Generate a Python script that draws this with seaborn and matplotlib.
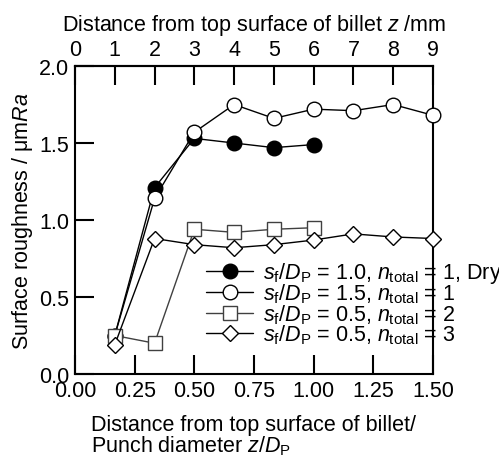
import numpy as np
import pandas as pd
import matplotlib
matplotlib.use("Agg")
import matplotlib.pyplot as plt
import seaborn as sns

# distance from top surface of billet, mm (punch diameter 6 mm)
z_mm = [1, 2, 3, 4, 5, 6, 7, 8, 9]
punch_d = 6.0

ra_dry = [0.25, 1.21, 1.53, 1.50, 1.47, 1.49]
ra_sf15 = [0.25, 1.14, 1.57, 1.75, 1.66, 1.72, 1.71, 1.75, 1.68]
ra_n2 = [0.25, 0.20, 0.94, 0.92, 0.94, 0.95]
ra_n3 = [0.19, 0.88, 0.84, 0.82, 0.84, 0.87, 0.91, 0.89, 0.88]

labels = [
    r"$s_\mathrm{f}/D_\mathrm{P}$ = 1.0, $n_\mathrm{total}$ = 1, Dry",
    r"$s_\mathrm{f}/D_\mathrm{P}$ = 1.5, $n_\mathrm{total}$ = 1",
    r"$s_\mathrm{f}/D_\mathrm{P}$ = 0.5, $n_\mathrm{total}$ = 2",
    r"$s_\mathrm{f}/D_\mathrm{P}$ = 0.5, $n_\mathrm{total}$ = 3",
]

fs = 15.5

sns.set_style("ticks")
plt.rcParams['font.family'] = ['Liberation Sans', 'DejaVu Sans']
plt.rcParams['mathtext.fontset'] = 'custom'
plt.rcParams['mathtext.rm'] = 'Liberation Sans'
plt.rcParams['mathtext.it'] = 'Liberation Sans:italic'
plt.rcParams['mathtext.bf'] = 'Liberation Sans:bold'
plt.rcParams['font.size'] = fs
plt.rcParams['axes.axisbelow'] = False
plt.rcParams['xtick.direction'] = 'in'
plt.rcParams['ytick.direction'] = 'in'
plt.rcParams['xtick.major.size'] = 14
plt.rcParams['ytick.major.size'] = 14
plt.rcParams['xtick.major.width'] = 1.5
plt.rcParams['ytick.major.width'] = 1.5
plt.rcParams['xtick.color'] = 'black'
plt.rcParams['ytick.color'] = 'black'
plt.rcParams['axes.edgecolor'] = 'black'
plt.rcParams['axes.labelcolor'] = 'black'
plt.rcParams['text.color'] = 'black'

fig = plt.figure(figsize=(4.99, 4.56), dpi=100)
ax = fig.add_axes([0.1503, 0.1776, 0.7174, 0.6754])

series = [
    (ra_dry, 'o', 'black', 'black', 'black'),
    (ra_sf15, 'o', 'white', 'black', 'black'),
    (ra_n2, 's', 'white', '#404040', '#404040'),
    (ra_n3, 'D', 'white', 'black', 'black'),
]

for (vals, mk, fc, ec, lc), lab in zip(series, labels):
    df = pd.DataFrame({'x': np.array(z_mm[:len(vals)]) / punch_d, 'y': vals})
    ms = 10.5 if mk != 'D' else 8.5
    sns.lineplot(data=df, x='x', y='y', ax=ax, color=lc, linewidth=1.0,
                 marker=mk, markersize=ms, markerfacecolor=fc,
                 markeredgecolor=ec, markeredgewidth=1.0, label=lab,
                 clip_on=False, zorder=3)

ax.set_xlim(0, 1.5)
ax.set_ylim(0, 2.0)
ax.set_xticks([0, 0.25, 0.5, 0.75, 1.0, 1.25, 1.5])
ax.set_xticklabels(['0.00', '0.25', '0.50', '0.75', '1.00', '1.25', '1.50'])
ax.set_yticks([0, 0.5, 1.0, 1.5, 2.0])
ax.set_yticklabels(['0.0', '0.5', '1.0', '1.5', '2.0'])
for sp in ax.spines.values():
    sp.set_linewidth(1.5)
    sp.set_visible(True)

secax = ax.secondary_xaxis('top', functions=(lambda x: x * punch_d,
                                             lambda z: z / punch_d))
secax.patch.set_visible(False)
secax.set_xticks(range(0, 10))
secax.tick_params(direction='in', length=14, width=1.5, pad=4, labelsize=fs)
secax.spines['top'].set_linewidth(1.5)
secax.set_xlabel(r"Distance from top surface of billet $z$ /mm", labelpad=7)

ax.tick_params(axis='both', which='major', direction='in', length=14,
               width=1.5, pad=4, labelsize=fs, bottom=True, left=True,
               top=False, right=False)
ax.xaxis.set_zorder(4)
ax.yaxis.set_zorder(4)

ax.set_xlabel("Distance from top surface of billet/\nPunch diameter $z/D_\\mathrm{P}$",
              multialignment='left', labelpad=9.5, linespacing=0.95)
ax.set_ylabel(r"Surface roughness / μm$Ra$", labelpad=3)

ax.legend(loc='upper left', bbox_to_anchor=(0.366, 0.37), frameon=False,
          borderpad=0, borderaxespad=0, handlelength=2.2, handletextpad=0.45,
          labelspacing=-0.15, fontsize=fs)

fig.savefig("out.png", dpi=100)
